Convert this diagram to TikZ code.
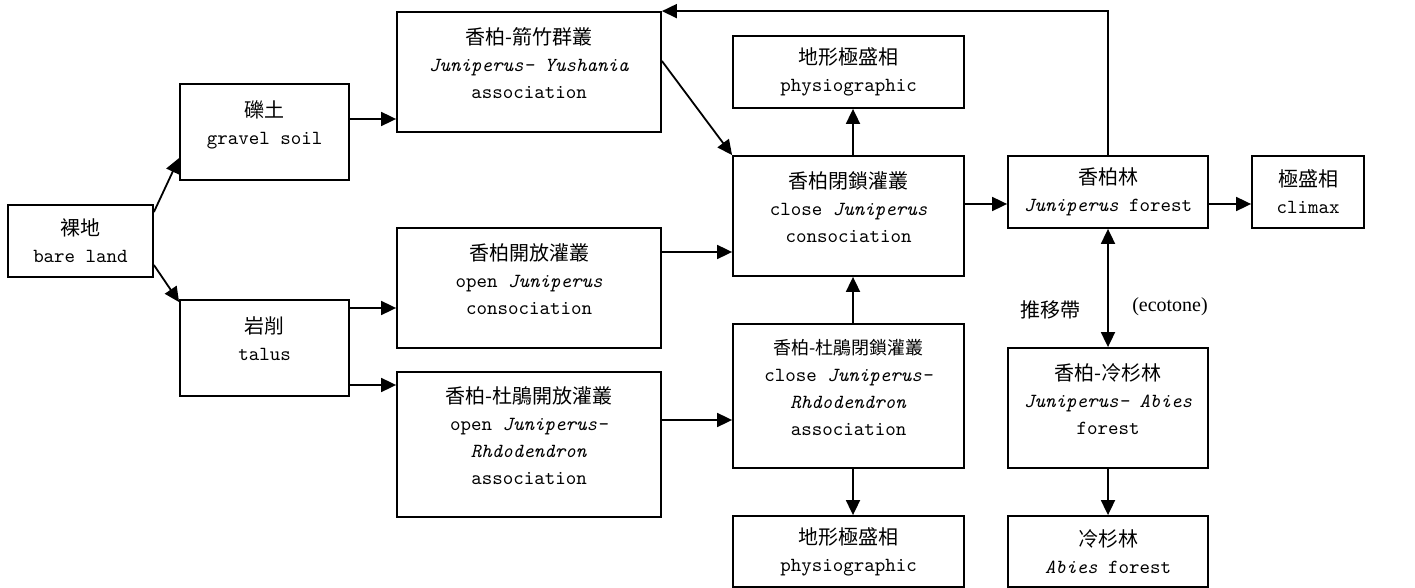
\documentclass[tikz,border=0pt]{standalone}
\usepackage{fontspec}
\newfontfamily\cjk{Noto Sans CJK TC}
\newfontfamily\eco{Liberation Serif}
\usepackage{tikz}
\usetikzlibrary{arrows.meta}

\begin{document}
\begin{tikzpicture}[x=0.5pt, y=-0.5pt, line width=0.9pt,
        >={Triangle[length=7.5pt,width=7pt]},
        box/.style={draw, rectangle, inner sep=0pt, align=center,
                font=\ttfamily\fontsize{10}{13.5}\selectfont},
        topbox/.style={box, text depth=9pt}]
        \useasboundingbox (0,0) rectangle (1415,588);

        \node[box, minimum width=72.5pt, minimum height=36pt] (1) at (80.5,241) {{\cjk 裸地}\\bare land};
        \node[topbox, minimum width=84.5pt, minimum height=48pt] (2) at (264.5,132) {{\cjk 礫土}\\gravel soil};
        \node[topbox, minimum width=84.5pt, minimum height=48pt] (3) at (264.5,348) {{\cjk 岩削}\\talus};
        \node[topbox, minimum width=132pt, minimum height=60pt] (4) at (529,72) {{\cjk 香柏-箭竹群叢}\\\textit{Juniperus- Yushania}\\association};
        \node[topbox, minimum width=132pt, minimum height=60pt] (5) at (529,288) {{\cjk 香柏開放灌叢}\\open \textit{Juniperus}\\consociation};
        \node[topbox, minimum width=132pt, minimum height=72.5pt] (6) at (529,444.5) {{\cjk 香柏-杜鵑開放灌叢}\\open \textit{Juniperus-}\\\textit{Rhdodendron}\\association};
        \node[box, minimum width=115.5pt, minimum height=36pt] (7) at (848.5,72) {{\cjk 地形極盛相}\\physiographic};
        \node[topbox, minimum width=115.5pt, minimum height=60pt] (8) at (848.5,216) {{\cjk 香柏閉鎖灌叢}\\close \textit{Juniperus}\\consociation};
        \node[topbox, minimum width=115.5pt, minimum height=72pt] (9) at (848.5,396) {{\cjk\fontsize{9}{13.5}\selectfont 香柏-杜鵑閉鎖灌叢}\\close \textit{Juniperus-}\\\textit{Rhdodendron}\\association};
        \node[box, minimum width=115.5pt, minimum height=35.5pt] (10) at (848.5,551.5) {{\cjk 地形極盛相}\\physiographic};
        \node[box, minimum width=100pt, minimum height=36pt] (11) at (1108,192) {{\cjk 香柏林}\\\textit{Juniperus} forest};
        \node[box, minimum width=56pt, minimum height=36pt] (12) at (1308,192) {{\cjk 極盛相}\\climax};
        \node[topbox, minimum width=100pt, minimum height=60pt] (13) at (1108,408) {{\cjk 香柏-冷杉林}\\\textit{Juniperus- Abies}\\forest};
        \node[box, minimum width=100pt, minimum height=35.5pt] (14) at (1108,551.5) {{\cjk 冷杉林}\\\textit{Abies} forest};
        \node[font=\cjk\fontsize{10}{12}\selectfont] (15) at (1050,310) {推移帶};
        \node[font=\eco\fontsize{10}{12}\selectfont] (16) at (1170,307) {(ecotone)};

        \draw[->] ([yshift=14.5pt]1.east) -- ([yshift=-13pt]2.west);
        \draw[->] ([yshift=-12pt]1.east) -- ([yshift=-1.5pt]3.north west);

        \draw[->] ([yshift=6.5pt]2.east) -- ([yshift=6.5pt]2.east -| 4.west);
        \draw[->] ([yshift=20pt]3.east) -- ([yshift=20pt]3.east -| 5.west);
        \draw[->] ([yshift=-18.5pt]3.east) -- ([yshift=-18.5pt]3.east -| 6.west);

        \draw[->] ([yshift=5.5pt]4.east) -- (8.north west);
        \draw[->] ([yshift=18pt]5.east) -- ([yshift=18pt]5.east -| 8.west);
        \draw[->] ([yshift=12.25pt]6.east) -- ([yshift=12.25pt]6.east -| 9.west);

        \draw[->] ([xshift=2.25pt]8.north) -- ([xshift=2.25pt]7.south);
        \draw[->] ([xshift=2.25pt]9.north) -- ([xshift=2.25pt]8.south);
        \draw[->] ([xshift=2.25pt]9.south) -- ([xshift=2.25pt]10.north);

        \draw[->] ([yshift=6pt]8.east) -- ([yshift=6pt]8.east -| 11.west);
        \draw[->] ([yshift=-6pt]11.east) -- ([yshift=-6pt]11.east -| 12.west);
        \draw[->] (11.north) |- (4.north east);

        \draw[<->] (11.south) -- (13.north);
        \draw[->] (13.south) -- (14.north);
      \end{tikzpicture}
\end{document}
